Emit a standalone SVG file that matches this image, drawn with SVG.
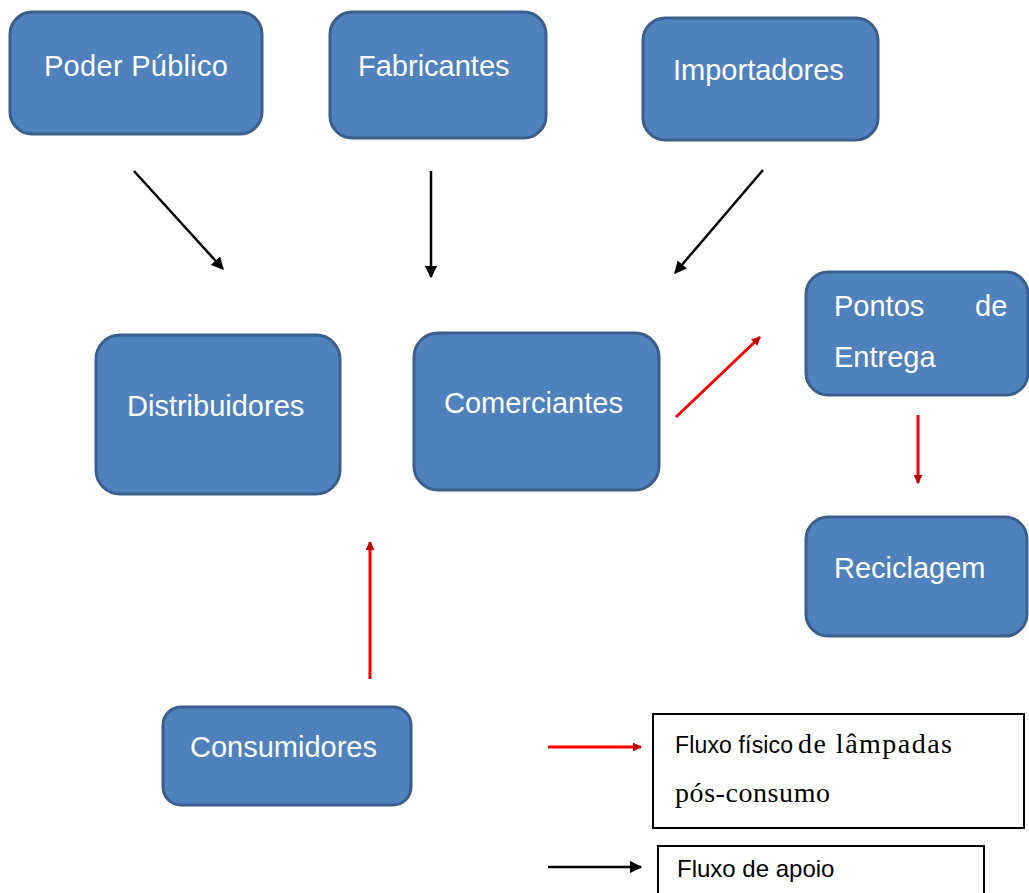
<svg xmlns="http://www.w3.org/2000/svg" width="1029" height="893" viewBox="0 0 1029 893">
<style>
.box{fill:#4F81BD;stroke:#3A5F8C;stroke-width:3}
.lbl{font-family:"Liberation Sans",Arial,sans-serif;font-size:29px;fill:#FFFFFF}
.sup{stroke:#000;stroke-width:2.5;fill:none}
.phy{stroke:#FF0000;stroke-width:3;fill:none}
.leg{fill:#FFFFFF;stroke:#000;stroke-width:2}
.ls{font-family:"Liberation Sans",Arial,sans-serif;font-size:24px;fill:#000}
.ls1{font-family:"Liberation Sans",Arial,sans-serif;font-size:23px;fill:#000}
.lr{font-family:"Liberation Serif","Times New Roman",serif;font-size:28px;fill:#000}
</style>
<defs>
<marker id="ah" viewBox="0 0 10 10" refX="9" refY="5" markerWidth="5" markerHeight="5" orient="auto" markerUnits="strokeWidth"><path d="M0,0 L10,5 L0,10 z" fill="#000"/></marker>
<marker id="ahr" viewBox="0 0 10 10" refX="9" refY="5" markerWidth="3" markerHeight="3" orient="auto" markerUnits="strokeWidth"><path d="M0,0 L10,5 L0,10 z" fill="#C00000"/></marker>
</defs>
<g id="poder-publico"><rect class="box" x="10" y="12" width="252" height="122" rx="22"/><text class="lbl" x="44" y="76" textLength="184">Poder Público</text></g>
<g id="fabricantes"><rect class="box" x="330" y="12" width="216" height="126" rx="22"/><text class="lbl" x="358" y="76">Fabricantes</text></g>
<g id="importadores"><rect class="box" x="643" y="18" width="235" height="122" rx="22"/><text class="lbl" x="673" y="80">Importadores</text></g>
<g id="distribuidores"><rect class="box" x="96" y="335" width="244" height="159" rx="24"/><text class="lbl" x="127" y="416">Distribuidores</text></g>
<g id="comerciantes"><rect class="box" x="414" y="333" width="245" height="157" rx="24"/><text class="lbl" x="444" y="413">Comerciantes</text></g>
<g id="pontos-de-entrega"><rect class="box" x="806" y="272" width="222" height="123" rx="22"/><text class="lbl" x="834" y="316">Pontos</text><text class="lbl" x="975" y="316">de</text><text class="lbl" x="834" y="367">Entrega</text></g>
<g id="reciclagem"><rect class="box" x="806" y="517" width="221" height="119" rx="22"/><text class="lbl" x="834" y="578">Reciclagem</text></g>
<g id="consumidores"><rect class="box" x="163" y="707" width="248" height="98" rx="18"/><text class="lbl" x="190" y="757">Consumidores</text></g>
<g id="connectors">
<line class="sup" x1="134" y1="171" x2="223" y2="269" marker-end="url(#ah)"/>
<line class="sup" x1="431" y1="171" x2="431" y2="277" marker-end="url(#ah)"/>
<line class="sup" x1="763" y1="170" x2="675" y2="273" marker-end="url(#ah)"/>
<line class="phy" x1="676" y1="417" x2="760" y2="337" marker-end="url(#ahr)"/>
<line class="phy" x1="918" y1="415" x2="918" y2="483" marker-end="url(#ahr)"/>
<line class="phy" x1="370" y1="679" x2="370" y2="542" marker-end="url(#ahr)"/>
</g>
<g id="legend">
<line class="phy" x1="548" y1="747" x2="641" y2="747" marker-end="url(#ahr)"/>
<rect class="leg" x="653" y="714" width="371" height="114"/>
<text class="ls1" x="675" y="753" textLength="118">Fluxo físico</text>
<text class="lr" x="798" y="753" textLength="154">de lâmpadas</text>
<text class="lr" x="675" y="802" textLength="155">pós-consumo</text>
<line class="sup" x1="548" y1="867" x2="641" y2="867" marker-end="url(#ah)"/>
<rect class="leg" x="658" y="846" width="326" height="60"/>
<text class="ls" x="677" y="877">Fluxo de apoio</text>
</g>
</svg>
